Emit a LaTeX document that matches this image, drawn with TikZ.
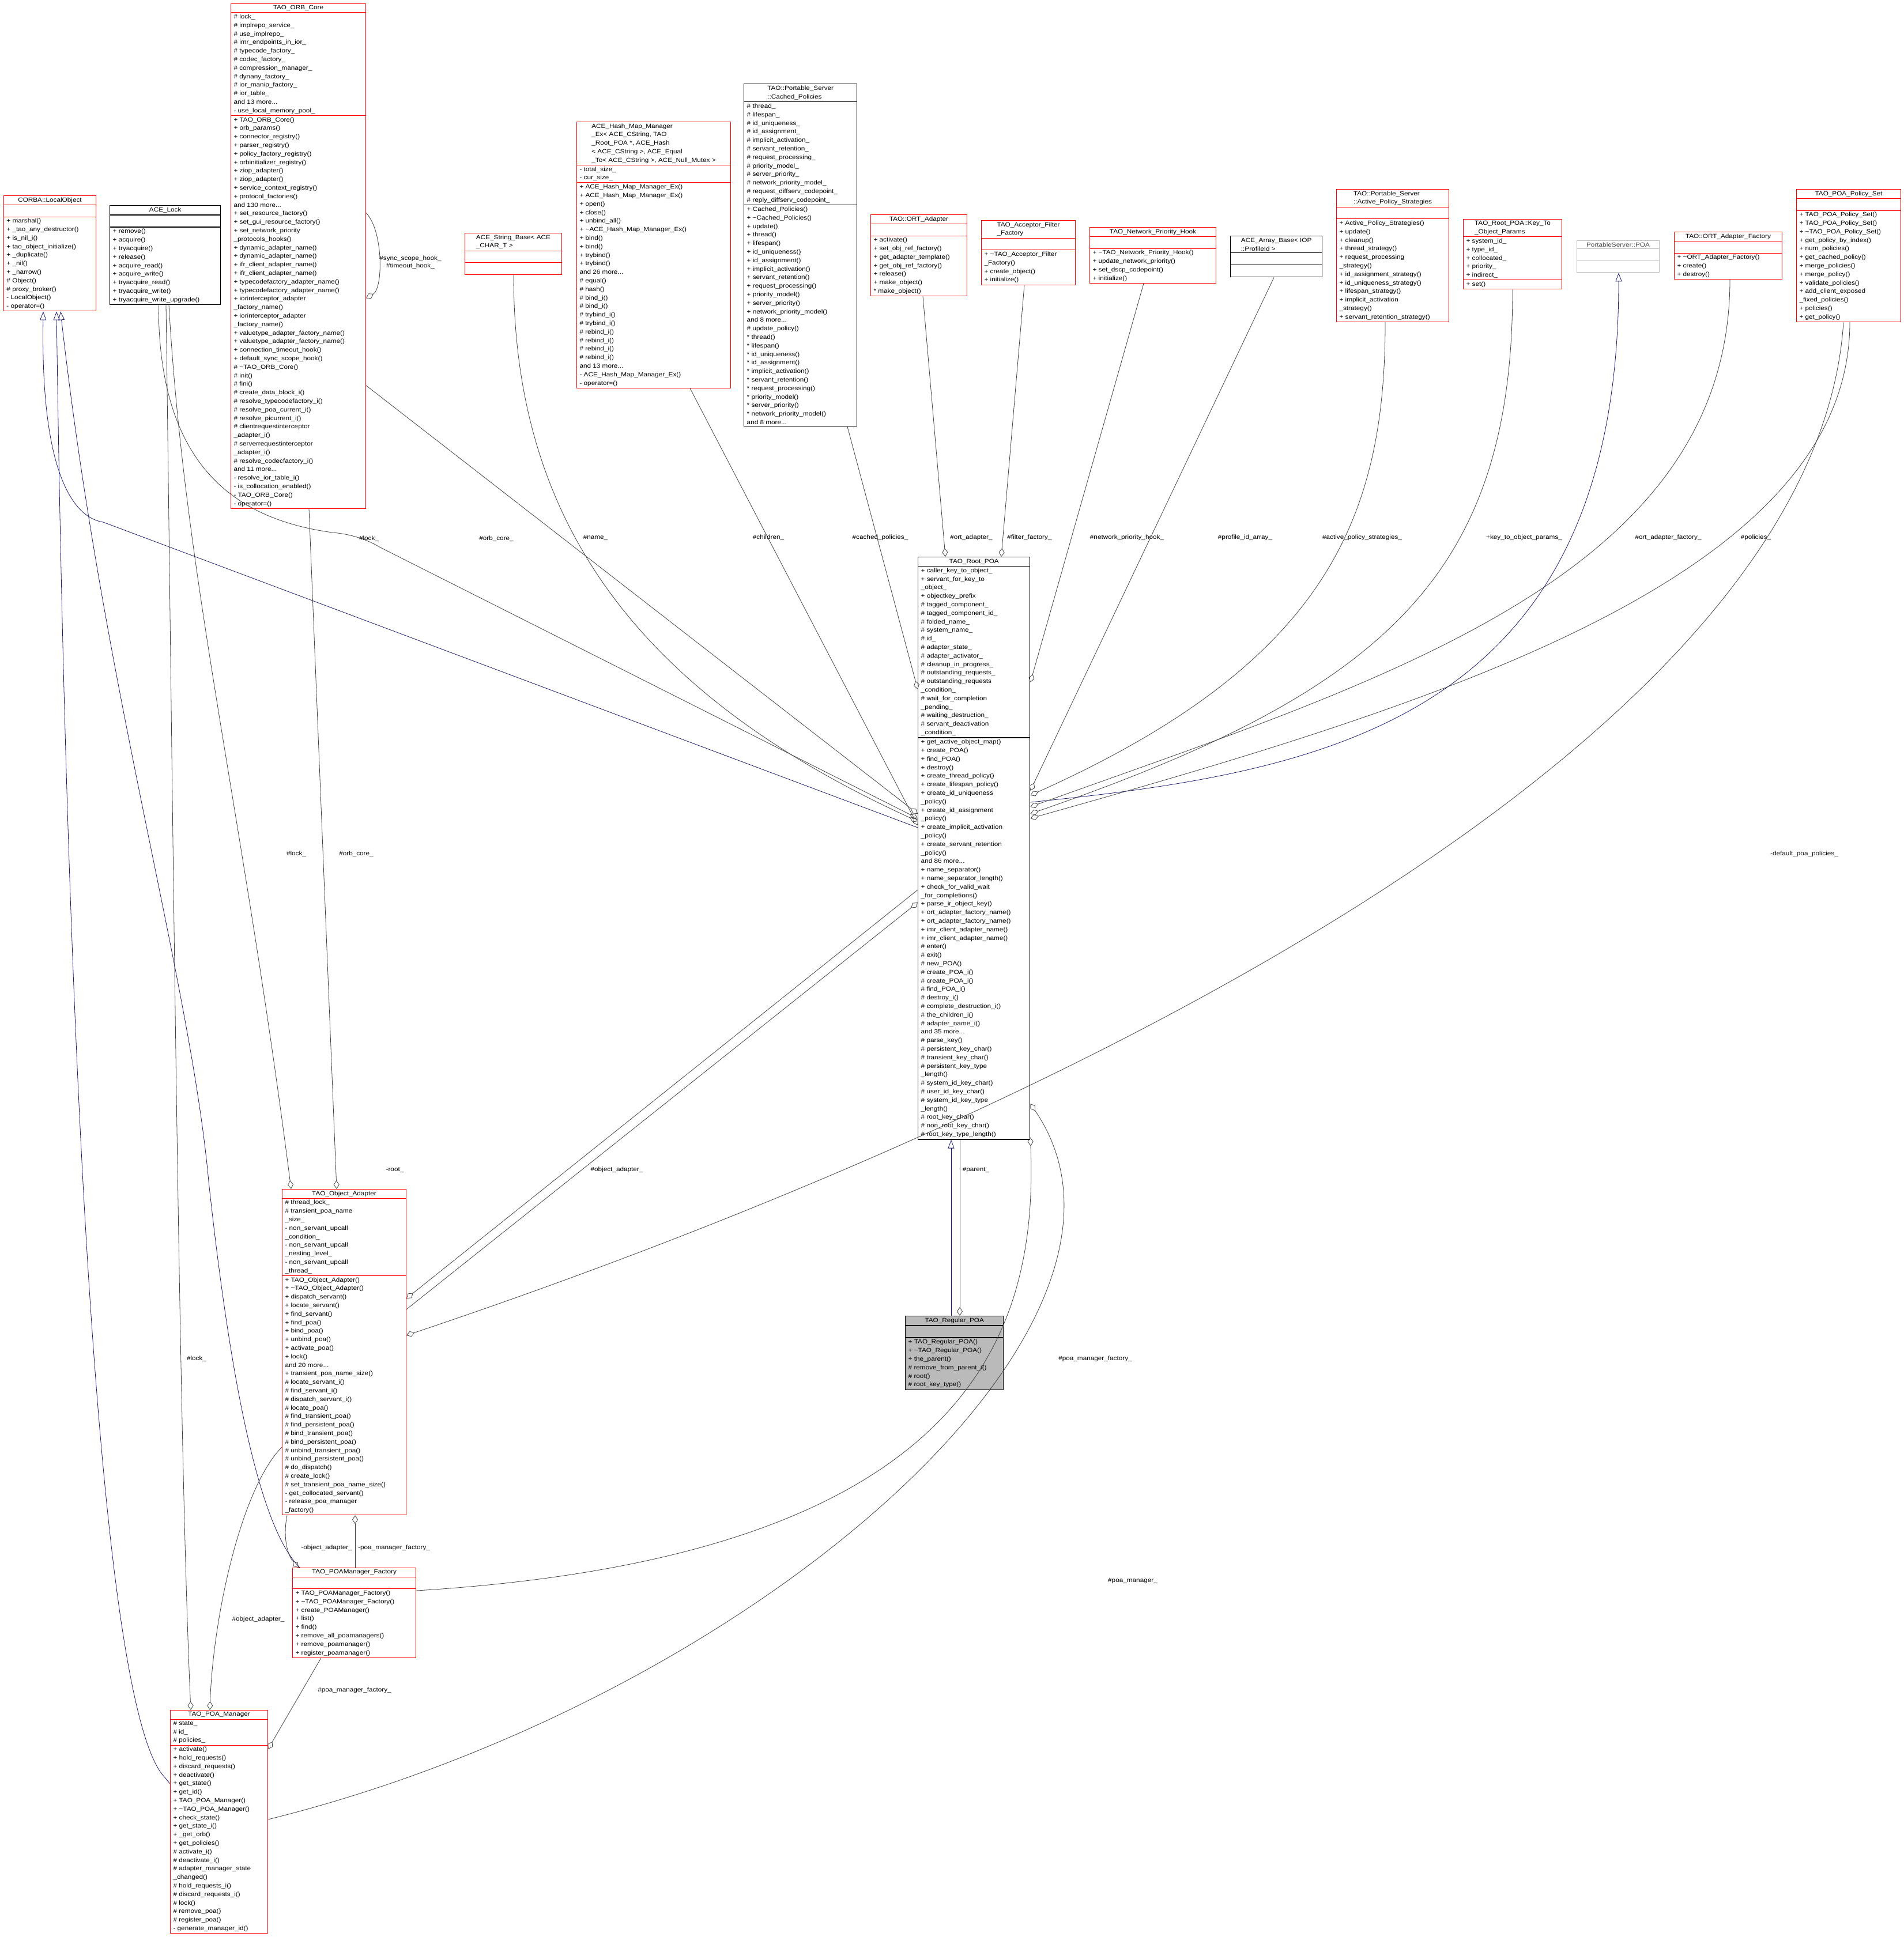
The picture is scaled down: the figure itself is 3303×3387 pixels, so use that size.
\documentclass[tikz,border=0pt]{standalone}
\usepackage{fontspec}
\setmainfont{Liberation Sans}[FakeStretch=1.12]
\usetikzlibrary{shapes.multipart,arrows.meta,calc}
\definecolor{inhblue}{RGB}{25,25,112}
\newcommand{\tl}{\textasciitilde}
\tikzset{
  cbox/.style={rectangle split, rectangle split parts=3, draw, anchor=north west,
    rectangle split part align={center,left,left}, align=left, minimum width=#1,
    inner xsep=5pt, inner ysep=2.5pt, line width=1pt,
    font=\fontsize{10.5}{14.8}\selectfont},
  cred/.style={cbox=#1, draw=red},
  cblack/.style={cbox=#1, draw=black, line width=1.4pt},
  agg/.style={draw=black!75, line width=0.8pt, {Diamond[open,length=15pt,width=10pt]}-},
  inh/.style={draw=inhblue, line width=0.8pt, {Triangle[open,length=15pt,width=11pt]}-},
  lbl/.style={font=\fontsize{10.5}{12.5}\selectfont, align=center, inner sep=1pt}
}
\begin{document}
\catcode`\_=12
\begin{tikzpicture}[x=1pt,y=-1pt]
\useasboundingbox (0,0) rectangle (3303,3387);
% classes of the first row
\node[cred=160pt] (lobj) at (6,339) {CORBA::LocalObject \nodepart{two}\strut \nodepart{three}+ marshal()\\+ _tao_any_destructor()\\+ is_nil_i()\\+ tao_object_initialize()\\+ _duplicate()\\+ _nil()\\+ _narrow()\\\# Object()\\\# proxy_broker()\\- LocalObject()\\- operator=()};
\node[cblack=192pt] (acelock) at (190,356) {ACE_Lock \nodepart{two}\strut \nodepart{three}+ remove()\\+ acquire()\\+ tryacquire()\\+ release()\\+ acquire_read()\\+ acquire_write()\\+ tryacquire_read()\\+ tryacquire_write()\\+ tryacquire_write_upgrade()};
\node[cred=234pt] (orbcore) at (400,6) {TAO_ORB_Core \nodepart{two}\# lock_\\\# implrepo_service_\\\# use_implrepo_\\\# imr_endpoints_in_ior_\\\# typecode_factory_\\\# codec_factory_\\\# compression_manager_\\\# dynany_factory_\\\# ior_manip_factory_\\\# ior_table_\\and 13 more...\\- use_local_memory_pool_
 \nodepart{three}+ TAO_ORB_Core()\\+ orb_params()\\+ connector_registry()\\+ parser_registry()\\+ policy_factory_registry()\\+ orbinitializer_registry()\\+ ziop_adapter()\\+ ziop_adapter()\\+ service_context_registry()\\+ protocol_factories()\\and 130 more...\\+ set_resource_factory()\\+ set_gui_resource_factory()\\+ set_network_priority\\ _protocols_hooks()\\+ dynamic_adapter_name()\\+ dynamic_adapter_name()\\+ ifr_client_adapter_name()\\+ ifr_client_adapter_name()\\+ typecodefactory_adapter_name()\\+ typecodefactory_adapter_name()\\+ iorinterceptor_adapter\\ _factory_name()\\+ iorinterceptor_adapter\\ _factory_name()\\+ valuetype_adapter_factory_name()\\+ valuetype_adapter_factory_name()\\+ connection_timeout_hook()\\+ default_sync_scope_hook()\\\# \tl TAO_ORB_Core()\\\# init()\\\# fini()\\\# create_data_block_i()\\\# resolve_typecodefactory_i()\\\# resolve_poa_current_i()\\\# resolve_picurrent_i()\\\# clientrequestinterceptor\\ _adapter_i()\\\# serverrequestinterceptor\\ _adapter_i()\\\# resolve_codecfactory_i()\\and 11 more...\\- resolve_ior_table_i()\\- is_collocation_enabled()\\- TAO_ORB_Core()\\- operator=()};
\node[cred=168pt] (strbase) at (806,404) {ACE_String_Base< ACE\\ _CHAR_T > \nodepart{two}\strut \nodepart{three}\strut};
\node[cred=267pt] (hashmap) at (1000,211) {ACE_Hash_Map_Manager\\_Ex< ACE_CString, TAO\\_Root_POA *, ACE_Hash\\< ACE_CString >, ACE_Equal\\_To< ACE_CString >, ACE_Null_Mutex > \nodepart{two}- total_size_\\- cur_size_
 \nodepart{three}+ ACE_Hash_Map_Manager_Ex()\\+ ACE_Hash_Map_Manager_Ex()\\+ open()\\+ close()\\+ unbind_all()\\+ \tl ACE_Hash_Map_Manager_Ex()\\+ bind()\\+ bind()\\+ trybind()\\+ trybind()\\and 26 more...\\\# equal()\\\# hash()\\\# bind_i()\\\# bind_i()\\\# trybind_i()\\\# trybind_i()\\\# rebind_i()\\\# rebind_i()\\\# rebind_i()\\\# rebind_i()\\and 13 more...\\- ACE_Hash_Map_Manager_Ex()\\- operator=()};
\node[cblack=196pt] (cached) at (1290,145) {TAO::Portable_Server\\::Cached_Policies \nodepart{two}\# thread_\\\# lifespan_\\\# id_uniqueness_\\\# id_assignment_\\\# implicit_activation_\\\# servant_retention_\\\# request_processing_\\\# priority_model_\\\# server_priority_\\\# network_priority_model_\\\# request_diffserv_codepoint_\\\# reply_diffserv_codepoint_
 \nodepart{three}+ Cached_Policies()\\+ \tl Cached_Policies()\\+ update()\\+ thread()\\+ lifespan()\\+ id_uniqueness()\\+ id_assignment()\\+ implicit_activation()\\+ servant_retention()\\+ request_processing()\\+ priority_model()\\+ server_priority()\\+ network_priority_model()\\and 8 more...\\\# update_policy()\\* thread()\\* lifespan()\\* id_uniqueness()\\* id_assignment()\\* implicit_activation()\\* servant_retention()\\* request_processing()\\* priority_model()\\* server_priority()\\* network_priority_model()\\and 8 more...};
\node[cred=167pt] (ortadapter) at (1510,372) {TAO::ORT_Adapter \nodepart{two}\strut \nodepart{three}+ activate()\\+ set_obj_ref_factory()\\+ get_adapter_template()\\+ get_obj_ref_factory()\\+ release()\\+ make_object()\\* make_object()};
\node[cred=163pt] (filterfac) at (1702,382) {TAO_Acceptor_Filter\\_Factory \nodepart{two}\strut \nodepart{three}+ \tl TAO_Acceptor_Filter\\_Factory()\\+ create_object()\\+ initialize()};
\node[cred=219pt] (nethook) at (1890,394) {TAO_Network_Priority_Hook \nodepart{two}\strut \nodepart{three}+ \tl TAO_Network_Priority_Hook()\\+ update_network_priority()\\+ set_dscp_codepoint()\\+ initialize()};
\node[cblack=159pt] (arraybase) at (2134,409) {ACE_Array_Base< IOP\\::ProfileId > \nodepart{two}\strut \nodepart{three}\strut};
\node[cred=195pt] (activeps) at (2318,328) {TAO::Portable_Server\\::Active_Policy_Strategies \nodepart{two}\strut \nodepart{three}+ Active_Policy_Strategies()\\+ update()\\+ cleanup()\\+ thread_strategy()\\+ request_processing\\_strategy()\\+ id_assignment_strategy()\\+ id_uniqueness_strategy()\\+ lifespan_strategy()\\+ implicit_activation\\_strategy()\\+ servant_retention_strategy()};
\node[cred=171pt] (keyparams) at (2538,380) {TAO_Root_POA::Key_To\\_Object_Params \nodepart{two}+ system_id_\\+ type_id_\\+ collocated_\\+ priority_\\+ indirect_ \nodepart{three}+ set()};
\node[cbox=143pt, draw=black!25, text=black!70] (psPOA) at (2735,417) {PortableServer::POA \nodepart{two}\strut \nodepart{three}\strut};
\node[cred=187pt] (ortfac) at (2904,402) {TAO::ORT_Adapter_Factory \nodepart{two}\strut \nodepart{three}+ \tl ORT_Adapter_Factory()\\+ create()\\+ destroy()};
\node[cred=181pt] (policyset) at (3116,328) {TAO_POA_Policy_Set \nodepart{two}\strut \nodepart{three}+ TAO_POA_Policy_Set()\\+ TAO_POA_Policy_Set()\\+ \tl TAO_POA_Policy_Set()\\+ get_policy_by_index()\\+ num_policies()\\+ get_cached_policy()\\+ merge_policies()\\+ merge_policy()\\+ validate_policies()\\+ add_client_exposed\\_fixed_policies()\\+ policies()\\+ get_policy()};
% the POA classes
\node[cblack=194pt] (root) at (1592,966) {TAO_Root_POA \nodepart{two}+ caller_key_to_object_\\+ servant_for_key_to\\_object_\\+ objectkey_prefix\\\# tagged_component_\\\# tagged_component_id_\\\# folded_name_\\\# system_name_\\\# id_\\\# adapter_state_\\\# adapter_activator_\\\# cleanup_in_progress_\\\# outstanding_requests_\\\# outstanding_requests\\_condition_\\\# wait_for_completion\\_pending_\\\# waiting_destruction_\\\# servant_deactivation\\_condition_
 \nodepart{three}+ get_active_object_map()\\+ create_POA()\\+ find_POA()\\+ destroy()\\+ create_thread_policy()\\+ create_lifespan_policy()\\+ create_id_uniqueness\\_policy()\\+ create_id_assignment\\_policy()\\+ create_implicit_activation\\_policy()\\+ create_servant_retention\\_policy()\\and 86 more...\\+ name_separator()\\+ name_separator_length()\\+ check_for_valid_wait\\_for_completions()\\+ parse_ir_object_key()\\+ ort_adapter_factory_name()\\+ ort_adapter_factory_name()\\+ imr_client_adapter_name()\\+ imr_client_adapter_name()\\\# enter()\\\# exit()\\\# new_POA()\\\# create_POA_i()\\\# create_POA_i()\\\# find_POA_i()\\\# destroy_i()\\\# complete_destruction_i()\\\# the_children_i()\\\# adapter_name_i()\\and 35 more...\\\# parse_key()\\\# persistent_key_char()\\\# transient_key_char()\\\# persistent_key_type\\_length()\\\# system_id_key_char()\\\# user_id_key_char()\\\# system_id_key_type\\_length()\\\# root_key_char()\\\# non_root_key_char()\\\# root_key_type_length()};
\node[cblack=170pt, fill=black!27] (regular) at (1570,2283) {TAO_Regular_POA \nodepart{two}\strut \nodepart{three}+ TAO_Regular_POA()\\+ \tl TAO_Regular_POA()\\+ the_parent()\\\# remove_from_parent_i()\\\# root()\\\# root_key_type()};
\node[cred=215pt] (objadapter) at (489,2063) {TAO_Object_Adapter \nodepart{two}\# thread_lock_\\\# transient_poa_name\\_size_\\- non_servant_upcall\\_condition_\\- non_servant_upcall\\_nesting_level_\\- non_servant_upcall\\_thread_
 \nodepart{three}+ TAO_Object_Adapter()\\+ \tl TAO_Object_Adapter()\\+ dispatch_servant()\\+ locate_servant()\\+ find_servant()\\+ find_poa()\\+ bind_poa()\\+ unbind_poa()\\+ activate_poa()\\+ lock()\\and 20 more...\\+ transient_poa_name_size()\\\# locate_servant_i()\\\# find_servant_i()\\\# dispatch_servant_i()\\\# locate_poa()\\\# find_transient_poa()\\\# find_persistent_poa()\\\# bind_transient_poa()\\\# bind_persistent_poa()\\\# unbind_transient_poa()\\\# unbind_persistent_poa()\\\# do_dispatch()\\\# create_lock()\\\# set_transient_poa_name_size()\\- get_collocated_servant()\\- release_poa_manager\\_factory()};
\node[cred=214pt] (pmfactory) at (507,2720) {TAO_POAManager_Factory \nodepart{two}\strut \nodepart{three}+ TAO_POAManager_Factory()\\+ \tl TAO_POAManager_Factory()\\+ create_POAManager()\\+ list()\\+ find()\\+ remove_all_poamanagers()\\+ remove_poamanager()\\+ register_poamanager()};
\node[cred=169pt] (poamgr) at (295,2967) {TAO_POA_Manager \nodepart{two}\# state_\\\# id_\\\# policies_
 \nodepart{three}+ activate()\\+ hold_requests()\\+ discard_requests()\\+ deactivate()\\+ get_state()\\+ get_id()\\+ TAO_POA_Manager()\\+ \tl TAO_POA_Manager()\\+ check_state()\\+ get_state_i()\\+ _get_orb()\\+ get_policies()\\\# activate_i()\\\# deactivate_i()\\\# adapter_manager_state\\_changed()\\\# hold_requests_i()\\\# discard_requests_i()\\\# lock()\\\# remove_poa()\\\# register_poa()\\- generate_manager_id()};
% inheritance
\draw[inh] ($(lobj.south west)+(69,0)$) .. controls (70,850) and (140,900) .. (179,906) -- ($(root.north west)+(0,470)$);
\draw[inh] ($(lobj.south west)+(92,0)$) .. controls (110,1400) and (150,2900) .. (280,3077) -- ($(poamgr.north west)+(0,128)$);
\draw[inh] ($(lobj.south west)+(99,0)$) .. controls (180,1200) and (330,1700) .. (362,2050) .. controls (400,2400) and (450,2650) .. ($(pmfactory.north west)+(13,0)$);
\draw[inh] ($(psPOA.south west)+(73,0)$) .. controls (2808,1250) and (2300,1340) .. ($(root.north east)+(0,426)$);
\draw[inh] ($(root.south west)+(58,0)$) -- ($(regular.north west)+(80,0)$);
% members of TAO_Root_POA
\draw[agg] ($(orbcore.east)+(0,73)$) .. controls (665,500) and (665,400) .. ($(orbcore.east)+(0,-75)$);
\node[lbl] (lhook) at (712,455) {\#sync_scope_hook_\\\#timeout_hook_};
\draw[agg] ($(root.north west)+(0,454)$) -- (660,950) .. controls (630,932) and (600,926) .. (577,924) .. controls (400,900) and (275,800) .. ($(acelock.south west)+(85,0)$);
\node[lbl] (llock) at (640,935) {\#lock_};
\draw[agg] ($(root.north west)+(0,446)$) -- ($(orbcore.south east)+(0,-214)$);
\node[lbl] (lorb) at (861,935) {\#orb_core_};
\draw[agg] ($(root.north west)+(0,459)$) .. controls (1100,1200) and (891,900) .. ($(strbase.south west)+(85,0)$);
\node[lbl] (lname) at (1033,933) {\#name_};
\draw[agg] ($(root.north west)+(0,466)$) -- ($(hashmap.south west)+(197,0)$);
\node[lbl] (lchild) at (1333,933) {\#children_};
\draw[agg] ($(root.north west)+(0,230)$) -- ($(cached.south west)+(180,0)$);
\node[lbl] (lcached) at (1527,933) {\#cached_policies_};
\draw[agg] ($(root.north west)+(48,0)$) -- ($(ortadapter.south west)+(91,0)$);
\node[lbl] (lort) at (1685,933) {\#ort_adapter_};
\draw[agg] ($(root.north west)+(145,0)$) -- ($(filterfac.south west)+(75,0)$);
\node[lbl] (lfilter) at (1786,933) {\#filter_factory_};
\draw[agg] ($(root.north east)+(0,218)$) -- ($(nethook.south west)+(94,0)$);
\node[lbl] (lnet) at (1955,933) {\#network_priority_hook_};
\draw[agg] ($(root.north east)+(0,406)$) -- ($(arraybase.south west)+(76,0)$);
\node[lbl] (lprof) at (2160,933) {\#profile_id_array_};
\draw[agg] ($(root.north east)+(0,414)$) .. controls (2300,1150) and (2403,900) .. ($(activeps.south west)+(85,0)$);
\node[lbl] (lactive) at (2363,933) {\#active_policy_strategies_};
\draw[agg] ($(root.north east)+(0,446)$) .. controls (2400,1200) and (2624,1000) .. ($(keyparams.south west)+(86,0)$);
\node[lbl] (lkey) at (2644,933) {+key_to_object_params_};
\draw[agg] ($(root.north east)+(0,434)$) .. controls (2400,1180) and (3001,1000) .. ($(ortfac.south west)+(97,0)$);
\node[lbl] (lortfac) at (2894,933) {\#ort_adapter_factory_};
\draw[agg] ($(root.north east)+(0,454)$) .. controls (2500,1220) and (3209,1000) .. ($(policyset.south west)+(93,0)$);
\node[lbl] (lpolicies) at (3046,933) {\#policies_};
\draw[agg] ($(root.north west)+(0,600)$) -- ($(objadapter.north east)+(0,209)$);
\node[lbl] (loa) at (1070,2030) {\#object_adapter_};
\draw[agg] ($(regular.north west)+(95,0)$) -- ($(root.south west)+(73,0)$);
\node[lbl] (lparent) at (1693,2030) {\#parent_};
\draw[agg] ($(root.south east)+(0,-4)$) .. controls (1800,2300) and (1700,2700) .. ($(pmfactory.north east)+(0,40)$);
\node[lbl] (lpmf) at (1900,2358) {\#poa_manager_factory_};
\draw[agg] ($(root.north east)+(0,949)$) .. controls (2050,2300) and (1300,2950) .. ($(poamgr.north east)+(0,190)$);
\node[lbl] (lpm) at (1965,2743) {\#poa_manager_};
% members of TAO_Object_Adapter
\draw[agg] ($(objadapter.north east)+(0,190)$) -- ($(root.north west)+(0,578)$);
\node[lbl] (lroot) at (685,2030) {-root_};
\draw[agg] ($(objadapter.north east)+(0,254)$) .. controls (1800,1950) and (3150,1300) .. ($(policyset.south west)+(82,0)$);
\node[lbl] (ldefpol) at (3130,1482) {-default_poa_policies_};
\draw[agg] ($(objadapter.north west)+(16,0)$) .. controls (420,1400) and (320,1000) .. ($(acelock.south west)+(103,0)$);
\node[lbl] (llock2) at (514,1482) {\#lock_};
\draw[agg] ($(objadapter.north west)+(95,0)$) -- ($(orbcore.south west)+(136,0)$);
\node[lbl] (lorb2) at (618,1482) {\#orb_core_};
\draw[agg] ($(objadapter.south west)+(127,0)$) -- ($(pmfactory.north west)+(109,0)$);
\node[lbl, anchor=west] (lpmf2) at (620,2686) {-poa_manager_factory_};
% members of the factory and the manager
\draw[agg] ($(pmfactory.north west)+(11,0)$) .. controls (500,2700) and (490,2670) .. ($(objadapter.south west)+(9,0)$);
\node[lbl, anchor=east] (loa2) at (612,2686) {-object_adapter_};
\draw[agg] ($(poamgr.north east)+(0,68)$) -- ($(pmfactory.south west)+(50,0)$);
\node[lbl] (lpmf3) at (615,2933) {\#poa_manager_factory_};
\draw[agg] ($(poamgr.north west)+(36,0)$) .. controls (310,2500) and (300,1400) .. ($(acelock.south west)+(98,0)$);
\node[lbl] (llock3) at (341,2358) {\#lock_};
\draw[agg] ($(poamgr.north west)+(69,0)$) .. controls (370,2800) and (420,2580) .. ($(objadapter.north west)+(0,448)$);
\node[lbl] (loa3) at (448,2810) {\#object_adapter_};
\end{tikzpicture}
\end{document}
